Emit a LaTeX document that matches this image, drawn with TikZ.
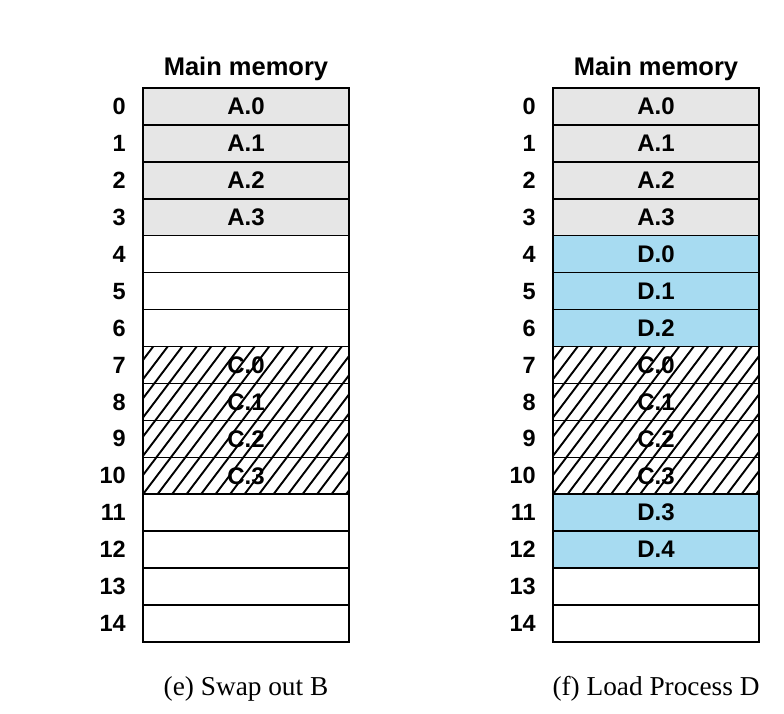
\documentclass[tikz,border=0pt]{standalone}
\usepackage{fontspec}
\setmainfont{Liberation Serif}
\setsansfont{Liberation Sans}
\definecolor{graycell}{HTML}{E6E6E6}
\definecolor{bluecell}{HTML}{A7DBF1}
\begin{document}
\begin{tikzpicture}[x=1pt,y=-1pt,
  cell/.style={draw=black, line width=1.5pt, minimum width=206pt, minimum height=36.93pt, inner sep=0pt, outer sep=0pt, font=\sffamily\bfseries\fontsize{24}{24}\selectfont},
  acell/.style={cell, fill=graycell},
  dcell/.style={cell, fill=bluecell},
  ecell/.style={cell, fill=white},
  hcell/.style={cell},
  idx/.style={anchor=east, inner sep=0pt, font=\sffamily\bfseries\fontsize{23.5}{23.5}\selectfont},
  ttl/.style={inner sep=0pt, font=\sffamily\bfseries\fontsize{25.5}{25.5}\selectfont},
  captxt/.style={inner sep=0pt, font=\fontsize{27.3}{27.3}\selectfont},
  hatch/.style={line width=1.9pt}
]
\useasboundingbox (0,0) rectangle (784,714);
\fill[white] (0,0) rectangle (784,714);

% hatch backgrounds for C region (rows 7-10)
\foreach \cx in {246,656}{
  \begin{scope}
    \clip (\cx-103, 88+7*36.93) rectangle (\cx+103, 88+11*36.93);
    \foreach \k in {-10,...,16}{
      \draw[hatch] (\cx-103+\k*14.5, 88+11*36.93) -- ++(121,-160);
    }
  \end{scope}
}

% left column (e)
\foreach \i/\t/\s in {0/A.0/acell,1/A.1/acell,2/A.2/acell,3/A.3/acell,4//ecell,5//ecell,6//ecell,7/C.0/hcell,8/C.1/hcell,9/C.2/hcell,10/C.3/hcell,11//ecell,12//ecell,13//ecell,14//ecell}{
  \node[\s] (L\i) at (246, 106.47+\i*36.93) {\t};
  \node[idx] (LI\i) at (126, 106.47+\i*36.93) {\i};
}
% right column (f)
\foreach \i/\t/\s in {0/A.0/acell,1/A.1/acell,2/A.2/acell,3/A.3/acell,4/D.0/dcell,5/D.1/dcell,6/D.2/dcell,7/C.0/hcell,8/C.1/hcell,9/C.2/hcell,10/C.3/hcell,11/D.3/dcell,12/D.4/dcell,13//ecell,14//ecell}{
  \node[\s] (R\i) at (656, 106.47+\i*36.93) {\t};
  \node[idx] (RI\i) at (536, 106.47+\i*36.93) {\i};
}

\node[ttl] (LT) at (246, 69) {Main memory};
\node[ttl] (RT) at (656, 69) {Main memory};

\node[captxt] (LC) at (246, 689) {(e) Swap out B};
\node[captxt] (RC) at (656, 689) {(f) Load Process D};
\end{tikzpicture}
\end{document}
